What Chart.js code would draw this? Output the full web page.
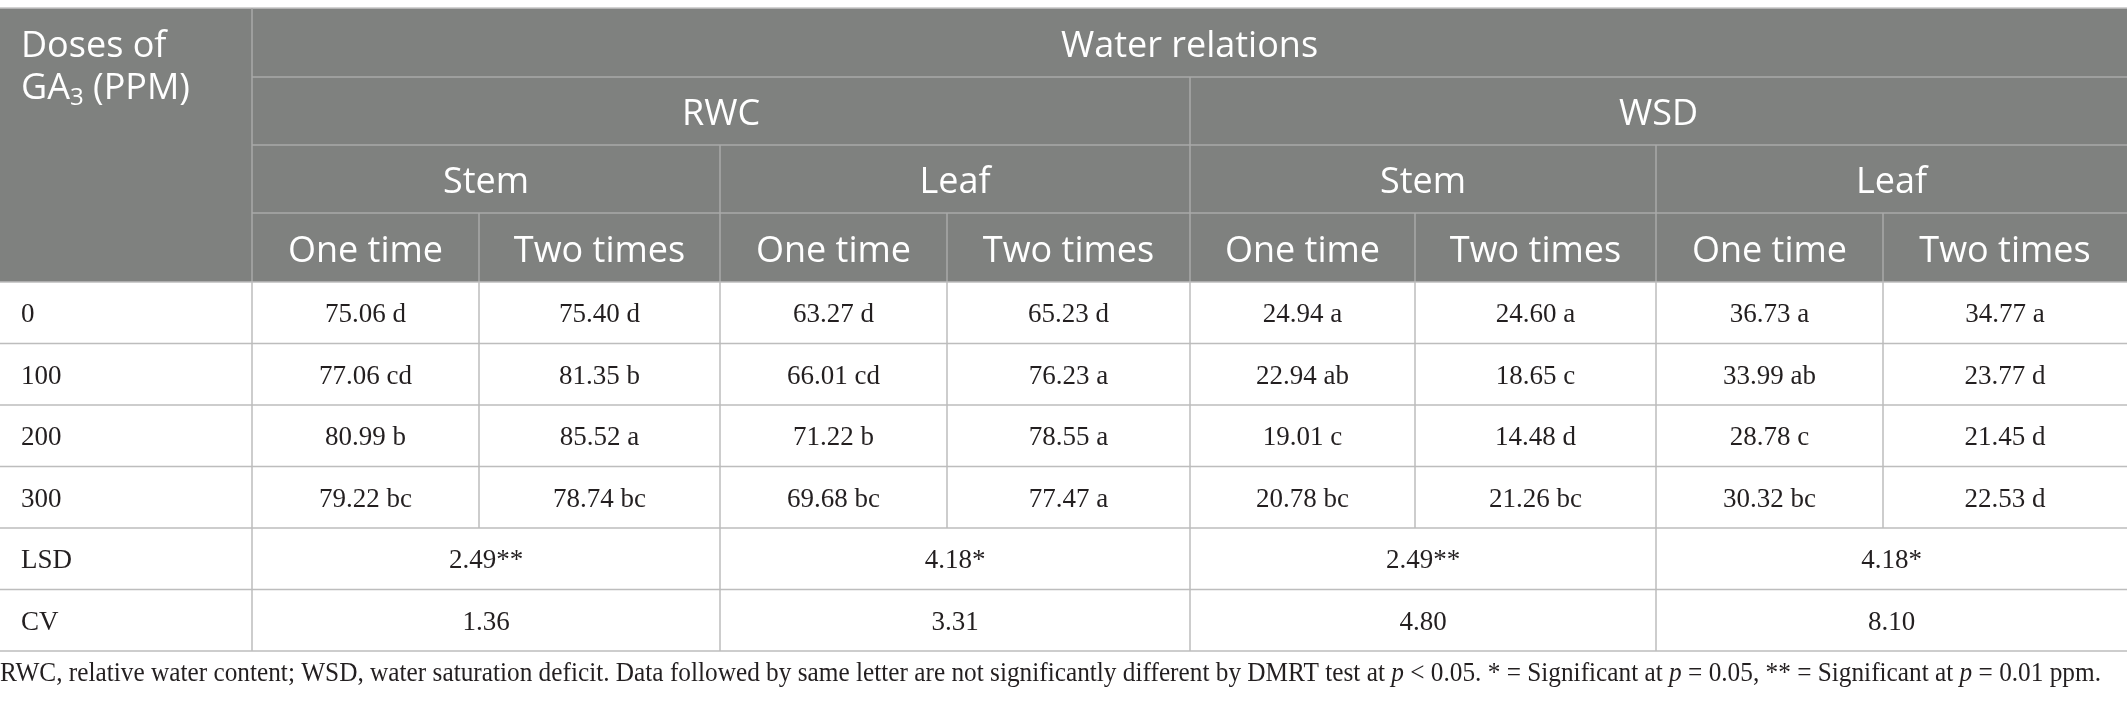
<!DOCTYPE html>
<html>
<head>
<meta charset="utf-8">
<script src="https://cdn.jsdelivr.net/npm/chart.js@4.4.1/dist/chart.umd.min.js"></script>
<style>
  html, body { margin: 0; padding: 0; background: #fff; }
  #wrap { width: 2127px; height: 711px; }
</style>
</head>
<body>
<div id="wrap"><canvas id="tbl" width="2127" height="711"></canvas></div>
<script>
// table data
var doses = ['0', '100', '200', '300'];
var groupLabels = ['RWC', 'WSD'];
var organLabels = ['Stem', 'Leaf'];
var timeLabels = ['One time', 'Two times'];

var rwcStemOne = [75.06, 77.06, 80.99, 79.22];
var rwcStemOneLet = ['d', 'cd', 'b', 'bc'];
var rwcStemTwo = [75.40, 81.35, 85.52, 78.74];
var rwcStemTwoLet = ['d', 'b', 'a', 'bc'];
var rwcLeafOne = [63.27, 66.01, 71.22, 69.68];
var rwcLeafOneLet = ['d', 'cd', 'b', 'bc'];
var rwcLeafTwo = [65.23, 76.23, 78.55, 77.47];
var rwcLeafTwoLet = ['d', 'a', 'a', 'a'];
var wsdStemOne = [24.94, 22.94, 19.01, 20.78];
var wsdStemOneLet = ['a', 'ab', 'c', 'bc'];
var wsdStemTwo = [24.60, 18.65, 14.48, 21.26];
var wsdStemTwoLet = ['a', 'c', 'd', 'bc'];
var wsdLeafOne = [36.73, 33.99, 28.78, 30.32];
var wsdLeafOneLet = ['a', 'ab', 'c', 'bc'];
var wsdLeafTwo = [34.77, 23.77, 21.45, 22.53];
var wsdLeafTwoLet = ['a', 'd', 'd', 'd'];

var lsdValues = [2.49, 4.18, 2.49, 4.18];
var lsdStars = ['**', '*', '**', '*'];
var cvValues = [1.36, 3.31, 4.80, 8.10];

// layout (pixels of the table)
var colWidths = [252, 227, 241, 227, 243, 225, 241, 227, 244];
var rowHeights = [69, 68, 68, 69, 61.5, 61.5, 61.5, 61.5, 61.5, 61.5];
var tableTop = 8;

var colEdges = [0];
colWidths.forEach(function(w) { colEdges.push(colEdges[colEdges.length - 1] + w); });
var rowEdges = [tableTop];
rowHeights.forEach(function(h) { rowEdges.push(rowEdges[rowEdges.length - 1] + h); });

var dataCols = [
  [rwcStemOne, rwcStemOneLet], [rwcStemTwo, rwcStemTwoLet],
  [rwcLeafOne, rwcLeafOneLet], [rwcLeafTwo, rwcLeafTwoLet],
  [wsdStemOne, wsdStemOneLet], [wsdStemTwo, wsdStemTwoLet],
  [wsdLeafOne, wsdLeafOneLet], [wsdLeafTwo, wsdLeafTwoLet]
];

var HEAD_BG = '#7f817f';
var HEAD_LINE = '#a9aaa9';
var BODY_LINE = '#bdbdbd';
var TEXT = '#231f20';
var SANS = '"Open Sans", "Noto Sans", sans-serif';
var SERIF = '"Liberation Serif", "DejaVu Serif", serif';

var tablePlugin = {
  id: 'tablePlugin',
  afterDraw: function(chart) {
    var ctx = chart.ctx;
    var xs = chart.scales.x, ys = chart.scales.y;
    function X(i) { return xs.getPixelForValue(colEdges[i]); }
    function Y(i) { return ys.getPixelForValue(rowEdges[i]); }
    function cx(a, b) { return (X(a) + X(b)) / 2; }
    function cy(a, b) { return (Y(a) + Y(b)) / 2; }
    function hline(r, c0, c1, col) {
      ctx.strokeStyle = col;
      ctx.beginPath(); ctx.moveTo(X(c0), Y(r)); ctx.lineTo(X(c1), Y(r)); ctx.stroke();
    }
    function vline(c, r0, r1, col) {
      ctx.strokeStyle = col;
      ctx.beginPath(); ctx.moveTo(X(c), Y(r0)); ctx.lineTo(X(c), Y(r1)); ctx.stroke();
    }

    ctx.save();
    // header background
    ctx.fillStyle = HEAD_BG;
    ctx.fillRect(X(0), Y(0), X(9) - X(0), Y(4) - Y(0));

    // header text (baseline placed so caps sit centred in the row)
    var hOff = 14;
    ctx.fillStyle = '#ffffff';
    ctx.font = '36px ' + SANS;
    ctx.textBaseline = 'alphabetic';
    ctx.textAlign = 'center';
    ctx.fillText('Water relations', cx(1, 9), cy(0, 1) + hOff);
    groupLabels.forEach(function(g, gi) {
      ctx.fillText(g, cx(1 + gi * 4, 5 + gi * 4), cy(1, 2) + hOff);
      organLabels.forEach(function(o, oi) {
        var c = 1 + gi * 4 + oi * 2;
        ctx.fillText(o, cx(c, c + 2), cy(2, 3) + hOff);
        timeLabels.forEach(function(t, ti) {
          ctx.fillText(t, cx(c + ti, c + ti + 1), cy(3, 4) + hOff);
        });
      });
    });
    // stub header with subscript
    ctx.textAlign = 'left';
    var lx = X(0) + 21;
    ctx.fillText('Doses of', lx, Y(0) + 49);
    ctx.fillText('GA', lx, Y(0) + 91);
    var gaW = ctx.measureText('GA').width;
    ctx.font = '24px ' + SANS;
    ctx.fillText('3', lx + gaW, Y(0) + 97);
    var subW = ctx.measureText('3').width;
    ctx.font = '36px ' + SANS;
    ctx.fillText(' (PPM)', lx + gaW + subW, Y(0) + 91);

    // body text
    var bOff = 9.5;
    ctx.fillStyle = TEXT;
    ctx.font = '27px ' + SERIF;
    doses.forEach(function(d, ri) {
      var by = cy(4 + ri, 5 + ri) + bOff;
      ctx.textAlign = 'left';
      ctx.fillText(d, lx, by);
      ctx.textAlign = 'center';
      dataCols.forEach(function(dc, ci) {
        ctx.fillText(dc[0][ri].toFixed(2) + ' ' + dc[1][ri], cx(1 + ci, 2 + ci), by);
      });
    });
    ctx.textAlign = 'left';
    ctx.fillText('LSD', lx, cy(8, 9) + bOff);
    ctx.fillText('CV', lx, cy(9, 10) + bOff);
    ctx.textAlign = 'center';
    lsdValues.forEach(function(v, i) {
      ctx.fillText(v.toFixed(2) + lsdStars[i], cx(1 + i * 2, 3 + i * 2), cy(8, 9) + bOff);
    });
    cvValues.forEach(function(v, i) {
      ctx.fillText(v.toFixed(2), cx(1 + i * 2, 3 + i * 2), cy(9, 10) + bOff);
    });

    // grid lines
    ctx.lineWidth = 1.5;
    hline(0, 0, 9, '#c4c4c4');
    [1, 2, 3].forEach(function(r) { hline(r, 1, 9, HEAD_LINE); });
    vline(1, 0, 4, HEAD_LINE);
    vline(5, 1, 4, HEAD_LINE);
    [3, 7].forEach(function(c) { vline(c, 2, 4, HEAD_LINE); });
    [2, 4, 6, 8].forEach(function(c) { vline(c, 3, 4, HEAD_LINE); });
    for (var r = 4; r <= 10; r++) hline(r, 0, 9, BODY_LINE);
    [1, 3, 5, 7].forEach(function(c) { vline(c, 4, 10, BODY_LINE); });
    [2, 4, 6, 8].forEach(function(c) { vline(c, 4, 8, BODY_LINE); });

    // footnote
    var parts = [
      ['RWC, relative water content; WSD, water saturation deficit. Data followed by same letter are not significantly different by DMRT test at ', false],
      ['p', true], [' < 0.05. * = Significant at ', false], ['p', true],
      [' = 0.05, ** = Significant at ', false], ['p', true], [' = 0.01 ppm.', false]
    ];
    var fSize = '27px ';
    var total = 0;
    parts.forEach(function(p) {
      ctx.font = (p[1] ? 'italic ' : '') + fSize + SERIF;
      total += ctx.measureText(p[0]).width;
    });
    var sx = Math.min(1, 2101 / total);
    ctx.fillStyle = TEXT;
    ctx.textAlign = 'left';
    ctx.textBaseline = 'alphabetic';
    ctx.translate(X(0), 0);
    ctx.scale(sx, 1);
    var px = 0;
    parts.forEach(function(p) {
      ctx.font = (p[1] ? 'italic ' : '') + fSize + SERIF;
      ctx.fillText(p[0], px, 681);
      px += ctx.measureText(p[0]).width;
    });
    ctx.restore();
  }
};

var canvas = document.getElementById('tbl');
var tableChart = new Chart(canvas, {
  type: 'scatter',
  data: { datasets: [] },
  options: {
    responsive: false,
    animation: false,
    devicePixelRatio: 1,
    layout: { padding: 0 },
    plugins: { legend: { display: false }, tooltip: { enabled: false } },
    scales: {
      x: { type: 'linear', min: 0, max: 2127, display: false },
      y: { type: 'linear', min: 0, max: 711, reverse: true, display: false }
    }
  },
  plugins: [tablePlugin]
});
</script>
</body>
</html>
